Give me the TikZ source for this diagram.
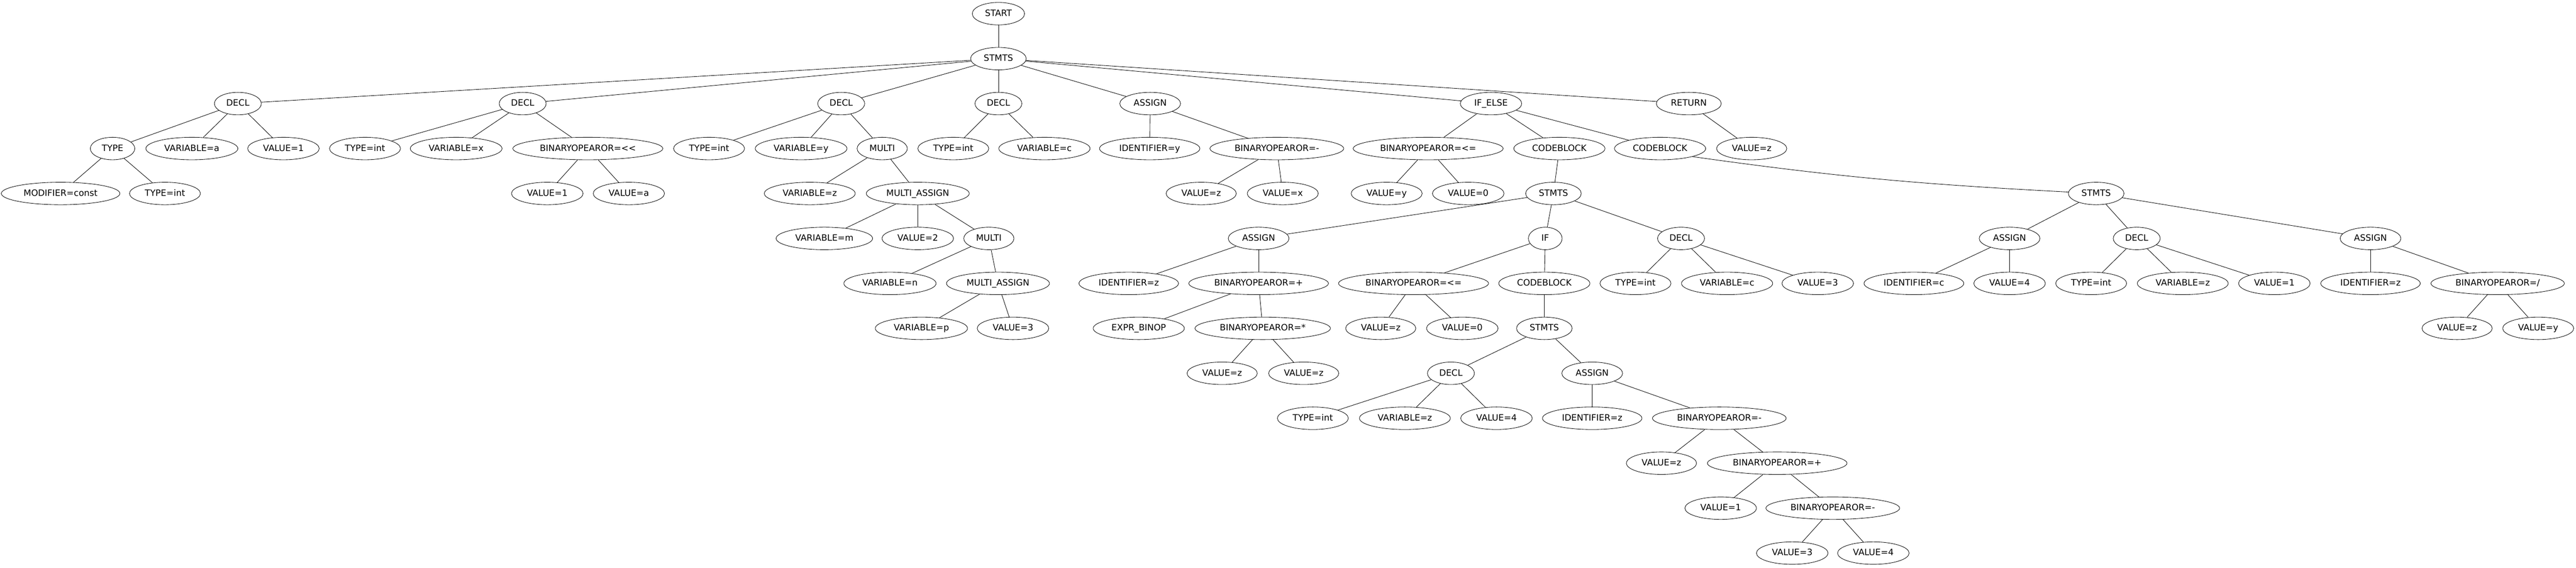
\documentclass[tikz,border=0pt]{standalone}
\usepackage{fontspec}
\setmainfont{DejaVu Sans}[Ligatures=TeXOff]
\usetikzlibrary{shapes.geometric}

\begin{document}
\begin{tikzpicture}[x=0.7302pt,y=-72pt,line width=0.7pt,
                    main node/.style={ellipse,draw,font=\fontsize{14}{17}\selectfont,
                      inner xsep=8pt,inner ysep=4pt,minimum width=54pt,minimum height=36pt,
                      text height=10.5pt,text depth=2.5pt}]
  \useasboundingbox (0,-0.3043) rectangle (5653,12.3225);
  \node[main node] (1) at (2191,0) {START};
  \node[main node] (2) at (2191,1) {STMTS};
  % first DECL
  \node[main node] (3) at (522,2) {DECL};
  \node[main node] (4) at (247,3) {TYPE};
  \node[main node] (5) at (133,4) {MODIFIER=const};
  \node[main node] (6) at (362,4) {TYPE=int};
  \node[main node] (7) at (421,3) {VARIABLE=a};
  \node[main node] (8) at (622,3) {VALUE=1};
  % second DECL
  \node[main node] (9) at (1147,2) {DECL};
  \node[main node] (10) at (801,3) {TYPE=int};
  \node[main node] (11) at (1001,3) {VARIABLE=x};
  \node[main node] (12) at (1290,3) {BINARYOPEAROR=<<};
  \node[main node] (13) at (1201,4) {VALUE=1};
  \node[main node] (14) at (1380,4) {VALUE=a};
  % third DECL
  \node[main node] (15) at (1846,2) {DECL};
  \node[main node] (16) at (1556,3) {TYPE=int};
  \node[main node] (17) at (1758,3) {VARIABLE=y};
  \node[main node] (18) at (1936,3) {MULTI};
  \node[main node] (19) at (1777,4) {VARIABLE=z};
  \node[main node] (20) at (2014,4) {MULTI\_ASSIGN};
  \node[main node] (21) at (1809,5) {VARIABLE=m};
  \node[main node] (22) at (2014,5) {VALUE=2};
  \node[main node] (23) at (2170,5) {MULTI};
  \node[main node] (24) at (1953,6) {VARIABLE=n};
  \node[main node] (25) at (2190,6) {MULTI\_ASSIGN};
  \node[main node] (26) at (2022,7) {VARIABLE=p};
  \node[main node] (27) at (2223,7) {VALUE=3};
  % fourth DECL
  \node[main node] (28) at (2191,2) {DECL};
  \node[main node] (29) at (2092,3) {TYPE=int};
  \node[main node] (30) at (2292,3) {VARIABLE=c};
  % ASSIGN
  \node[main node] (31) at (2524,2) {ASSIGN};
  \node[main node] (32) at (2523,3) {IDENTIFIER=y};
  \node[main node] (33) at (2802,3) {BINARYOPEAROR=-};
  \node[main node] (34) at (2636,4) {VALUE=z};
  \node[main node] (35) at (2815,4) {VALUE=x};
  % IF_ELSE
  \node[main node] (36) at (3272,2) {IF\_ELSE};
  \node[main node] (37) at (3134,3) {BINARYOPEAROR=<=};
  \node[main node] (38) at (3043,4) {VALUE=y};
  \node[main node] (39) at (3222,4) {VALUE=0};
  \node[main node] (40) at (3422,3) {CODEBLOCK};
  \node[main node] (41) at (3409,4) {STMTS};
  \node[main node] (42) at (2762,5) {ASSIGN};
  \node[main node] (43) at (2477,6) {IDENTIFIER=z};
  \node[main node] (44) at (2762,6) {BINARYOPEAROR=+};
  \node[main node] (45) at (2499,7) {EXPR\_BINOP};
  \node[main node] (46) at (2771,7) {BINARYOPEAROR=*};
  \node[main node] (47) at (2682,8) {VALUE=z};
  \node[main node] (48) at (2861,8) {VALUE=z};
  \node[main node] (49) at (3391,5) {IF};
  \node[main node] (50) at (3102,6) {BINARYOPEAROR=<=};
  \node[main node] (51) at (3030,7) {VALUE=z};
  \node[main node] (52) at (3209,7) {VALUE=0};
  \node[main node] (53) at (3389,6) {CODEBLOCK};
  \node[main node] (54) at (3389,7) {STMTS};
  \node[main node] (55) at (3184,8) {DECL};
  \node[main node] (56) at (2881,9) {TYPE=int};
  \node[main node] (57) at (3083,9) {VARIABLE=z};
  \node[main node] (58) at (3284,9) {VALUE=4};
  \node[main node] (59) at (3494,8) {ASSIGN};
  \node[main node] (60) at (3494,9) {IDENTIFIER=z};
  \node[main node] (61) at (3773,9) {BINARYOPEAROR=-};
  \node[main node] (62) at (3646,10) {VALUE=z};
  \node[main node] (63) at (3900,10) {BINARYOPEAROR=+};
  \node[main node] (64) at (3776,11) {VALUE=1};
  \node[main node] (65) at (4022,11) {BINARYOPEAROR=-};
  \node[main node] (66) at (3933,12) {VALUE=3};
  \node[main node] (67) at (4111,12) {VALUE=4};
  \node[main node] (68) at (3689,5) {DECL};
  \node[main node] (69) at (3589,6) {TYPE=int};
  \node[main node] (70) at (3790,6) {VARIABLE=c};
  \node[main node] (71) at (3989,6) {VALUE=3};
  % else branch
  \node[main node] (72) at (3643,3) {CODEBLOCK};
  \node[main node] (73) at (4600,4) {STMTS};
  \node[main node] (74) at (4410,5) {ASSIGN};
  \node[main node] (75) at (4200,6) {IDENTIFIER=c};
  \node[main node] (76) at (4410,6) {VALUE=4};
  \node[main node] (77) at (4689,5) {DECL};
  \node[main node] (78) at (4589,6) {TYPE=int};
  \node[main node] (79) at (4790,6) {VARIABLE=z};
  \node[main node] (80) at (4991,6) {VALUE=1};
  \node[main node] (81) at (5202,5) {ASSIGN};
  \node[main node] (82) at (5202,6) {IDENTIFIER=z};
  \node[main node] (83) at (5481,6) {BINARYOPEAROR=/};
  \node[main node] (84) at (5392,7) {VALUE=z};
  \node[main node] (85) at (5570,7) {VALUE=y};
  % RETURN
  \node[main node] (86) at (3706,2) {RETURN};
  \node[main node] (87) at (3844,3) {VALUE=z};

  \path
    (1) edge (2)
    (2) edge (3) edge (9) edge (15) edge (28) edge (31) edge (36) edge (86)
    (3) edge (4) edge (7) edge (8)
    (4) edge (5) edge (6)
    (9) edge (10) edge (11) edge (12)
    (12) edge (13) edge (14)
    (15) edge (16) edge (17) edge (18)
    (18) edge (19) edge (20)
    (20) edge (21) edge (22) edge (23)
    (23) edge (24) edge (25)
    (25) edge (26) edge (27)
    (28) edge (29) edge (30)
    (31) edge (32) edge (33)
    (33) edge (34) edge (35)
    (36) edge (37) edge (40) edge (72)
    (37) edge (38) edge (39)
    (40) edge (41)
    (41) edge (42) edge (49) edge (68)
    (42) edge (43) edge (44)
    (44) edge (45) edge (46)
    (46) edge (47) edge (48)
    (49) edge (50) edge (53)
    (50) edge (51) edge (52)
    (53) edge (54)
    (54) edge (55) edge (59)
    (55) edge (56) edge (57) edge (58)
    (59) edge (60) edge (61)
    (61) edge (62) edge (63)
    (63) edge (64) edge (65)
    (65) edge (66) edge (67)
    (68) edge (69) edge (70) edge (71)
    (72.south east) edge [out=-8,in=177] (73)
    (73) edge (74) edge (77) edge (81)
    (74) edge (75) edge (76)
    (77) edge (78) edge (79) edge (80)
    (81) edge (82) edge (83)
    (83) edge (84) edge (85)
    (86) edge (87);
\end{tikzpicture}
\end{document}
